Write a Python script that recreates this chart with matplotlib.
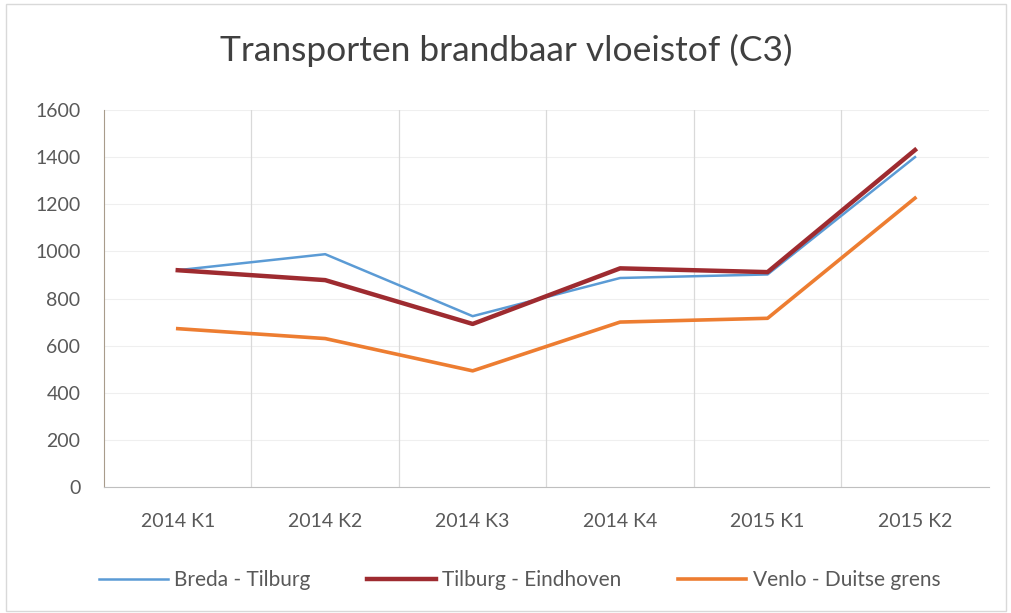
import matplotlib.pyplot as plt
from matplotlib.patches import Rectangle

# ---- Data ----
quarters = ['2014 K1', '2014 K2', '2014 K3', '2014 K4', '2015 K1', '2015 K2']
breda_tilburg = [920, 988, 725, 887, 902, 1400]
tilburg_eindhoven = [920, 878, 692, 928, 912, 1430]
venlo_duitse_grens = [672, 630, 493, 700, 716, 1226]

plt.rcParams['font.family'] = ['Lato', 'DejaVu Sans']
txt = '#595959'

fig = plt.figure(figsize=(10.12, 6.13), dpi=100)
ax = fig.add_axes([0.1028, 0.2055, 0.8742, 0.6151])

x = range(len(quarters))
ax.plot(x, breda_tilburg, color='#5B9BD5', lw=1.8, label='Breda - Tilburg', zorder=3)
ax.plot(x, tilburg_eindhoven, color='#9E2B30', lw=3.2, label='Tilburg - Eindhoven', zorder=4)
ax.plot(x, venlo_duitse_grens, color='#ED7D31', lw=2.6, label='Venlo - Duitse grens', zorder=3)

ax.set_xlim(-0.5, len(quarters) - 0.5)
ax.set_ylim(0, 1600)
ax.set_yticks(range(0, 1601, 200))
ax.set_xticks(list(x))
ax.set_xticklabels(quarters)

# vertical grid between categories, faint horizontal grid
for b in [i + 0.5 for i in range(len(quarters) - 1)]:
    ax.axvline(b, color='#d9d9d9', lw=0.9, zorder=1)
ax.yaxis.grid(True, color='#efefef', lw=0.8, zorder=0)
ax.set_axisbelow(True)

for s in ['top', 'right']:
    ax.spines[s].set_visible(False)
ax.spines['left'].set_color('#a89c8c')
ax.spines['bottom'].set_color('#bfbfbf')
ax.tick_params(length=0, labelsize=14, colors=txt)
ax.tick_params(axis='y', pad=17)
ax.tick_params(axis='x', pad=19)

fig.suptitle('Transporten brandbaar vloeistof (C3)', y=0.945, fontsize=25.5, color='#404040')

ax.legend(loc='upper center', bbox_to_anchor=(0.47, -0.17), ncol=3, frameon=False,
          fontsize=15, labelcolor=txt, handlelength=3.3, columnspacing=2.7, handletextpad=0.3)

fig.patches.append(Rectangle((0.006, 0.004), 0.988, 0.99, transform=fig.transFigure,
                             fill=False, edgecolor='#d9d9d9', lw=1))

plt.savefig('out.png', dpi=100)
